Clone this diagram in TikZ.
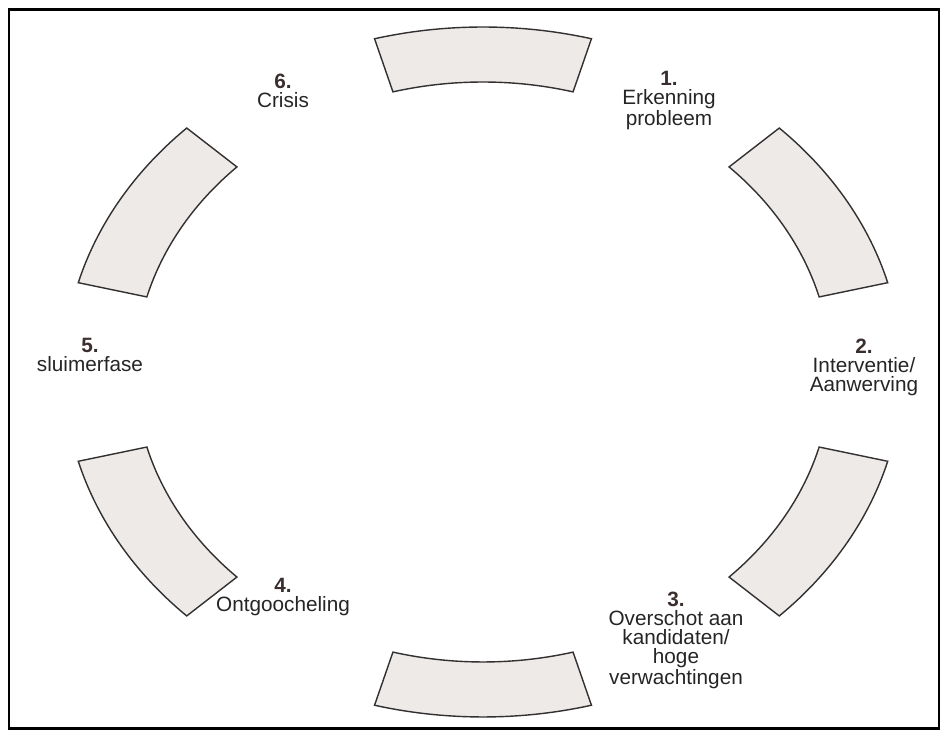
\documentclass[tikz,border=0pt]{standalone}
\usepackage{fontspec}
\setmainfont{Liberation Sans}
\usepackage{tikz}
\definecolor{segfill}{RGB}{238,234,232}
\definecolor{segline}{RGB}{50,48,48}
\definecolor{numcol}{RGB}{58,46,46}
\definecolor{txtcol}{RGB}{38,36,36}
\tikzset{
  segbox/.style={draw=segline, fill=segfill, line width=0.8pt, line join=miter},
  phase/.style={align=center, text=txtcol, inner sep=0pt,
    font=\fontsize{11.8}{10.8}\selectfont},
  frame/.style={draw=black, line width=1.7pt}
}
\newcommand{\nr}[1]{\textbf{\color{numcol}#1}}
\begin{document}
\begin{tikzpicture}[x=0.2mm, y=0.2mm]
    \useasboundingbox (0,0) rectangle (946,736);
    \draw[frame] (9,726) rectangle (939,7);
    \foreach \c in {90,30,-30,-90,-150,150} {
      \draw[segbox] plot[domain=\c-15:\c+15, samples=30] ({483+419*cos(\x)},{364+345*sin(\x)})
        -- plot[domain=\c+15:\c-15, samples=30] ({483+348*cos(\x)},{364+290*sin(\x)}) -- cycle;
    }
    \node[phase] (1) at (669,635) {\nr{1.}\\Erkenning\\probleem};
    \node[phase] (2) at (864,369) {\nr{2.}\\Interventie/\\Aanwerving};
    \node[phase] (3) at (676,96) {\nr{3.}\\Overschot aan\\kandidaten/\\hoge\\verwachtingen};
    \node[phase] (4) at (283,139) {\nr{4.}\\Ontgoocheling};
    \node[phase] (5) at (90,381) {\nr{5.}\\sluimerfase};
    \node[phase] (6) at (283,645) {\nr{6.}\\Crisis};
\end{tikzpicture}
\end{document}
